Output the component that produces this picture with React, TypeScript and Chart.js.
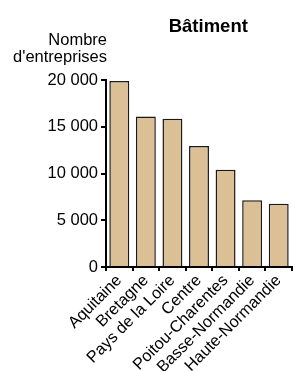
import React, { useEffect, useRef } from "react";
import { Chart, registerables } from "chart.js";

Chart.register(...registerables);

const categories = [
  "Aquitaine",
  "Bretagne",
  "Pays de la Loire",
  "Centre",
  "Poitou-Charentes",
  "Basse-Normandie",
  "Haute-Normandie",
];
const values = [19900, 16100, 15850, 12950, 10400, 7130, 6770];
const yTicks = [0, 5000, 10000, 15000, 20000];
const chartTitle = "Bâtiment";
const yTitle = ["Nombre", "d'entreprises"];

const FONT = "'Liberation Sans', Arial, sans-serif";
const TEXT = "#000";

const fmt = (v: number) =>
  String(Math.round(v)).replace(/\B(?=(\d{3})+(?!\d))/g, " ");

const titlesPlugin = {
  id: "titles",
  afterDraw(chart: any) {
    const ctx = chart.ctx;
    const area = chart.chartArea;
    ctx.save();
    ctx.fillStyle = TEXT;
    ctx.textBaseline = "alphabetic";
    ctx.font = `bold 18.5px ${FONT}`;
    ctx.textAlign = "center";
    ctx.fillText(chartTitle, area.left + (area.right - area.left) * 0.55, 31.5);
    ctx.font = `16.5px ${FONT}`;
    ctx.textAlign = "right";
    ctx.fillText(yTitle[0], area.left + 1, 45);
    ctx.fillText(yTitle[1], area.left + 1, 62);
    ctx.restore();
  },
};

export default function App() {
  const ref = useRef<HTMLCanvasElement | null>(null);
  useEffect(() => {
    if (!ref.current) return;
    const chart = new Chart(ref.current, {
      type: "bar",
      data: {
        labels: categories,
        datasets: [
          {
            data: values,
            backgroundColor: "#dbbf95",
            borderColor: "#1a1a1a",
            borderWidth: 1.5,
            barPercentage: 0.75,
            categoryPercentage: 1,
          },
        ],
      },
      options: {
        responsive: false,
        animation: false,
        layout: { padding: { top: 80, right: 3, left: 0, bottom: 0 } },
        plugins: {
          legend: { display: false },
          tooltip: { enabled: false },
          title: { display: false },
        },
        scales: {
          x: {
            grid: {
              display: true,
              drawOnChartArea: false,
              drawTicks: true,
              tickLength: 4,
              color: "#000",
              lineWidth: 2,
              offset: true,
            },
            border: { display: true, color: "#000", width: 2 },
            ticks: {
              autoSkip: false,
              maxRotation: 45,
              minRotation: 45,
              padding: 0,
              color: TEXT,
              font: { family: FONT, size: 16.3 },
            },
            afterFit(scale: any) {
              scale.height = 104;
            },
          },
          y: {
            min: 0,
            max: 20000,
            afterBuildTicks(scale: any) {
              scale.ticks = yTicks.map((v) => ({ value: v }));
            },
            grid: {
              display: true,
              drawOnChartArea: false,
              drawTicks: true,
              tickLength: 5,
              color: "#000",
              lineWidth: 2,
            },
            border: { display: true, color: "#000", width: 2 },
            ticks: {
              padding: 3,
              color: TEXT,
              font: { family: FONT, size: 16.5 },
              callback: (v: any) => fmt(Number(v)),
            },
            afterFit(scale: any) {
              scale.width = 106;
            },
          },
        },
      },
      plugins: [titlesPlugin],
    });
    return () => chart.destroy();
  }, []);
  return (
    <div style={{ position: "absolute", left: 0, top: 0, width: 295, height: 371, background: "#fff" }}>
      <canvas ref={ref} width={295} height={371} />
    </div>
  );
}
